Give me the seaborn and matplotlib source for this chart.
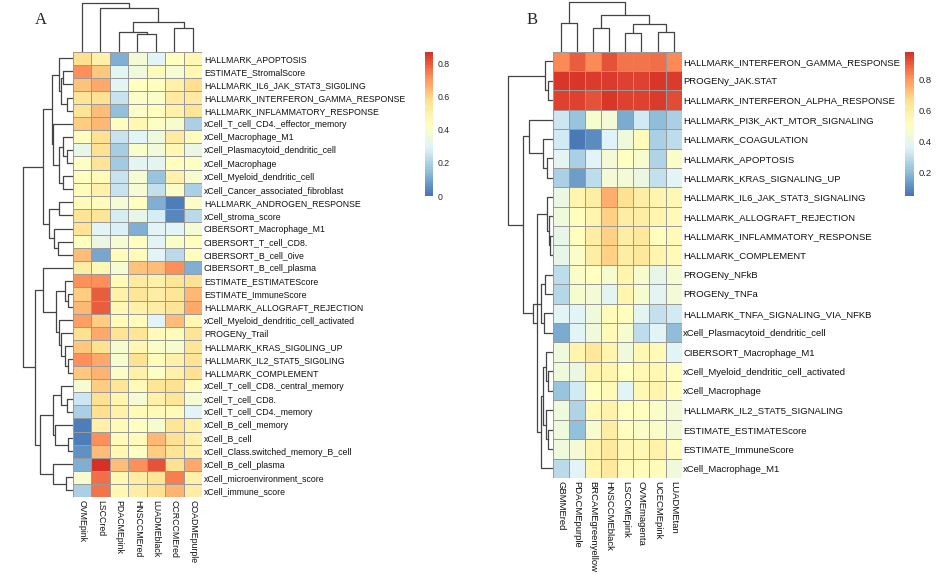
import numpy as np
import pandas as pd
import matplotlib
matplotlib.use("Agg")
import matplotlib.pyplot as plt
import seaborn as sns
from matplotlib.colors import LinearSegmentedColormap

# ---------------- data: panel A ----------------
cols_A = ["OVMEpink", "LSCCred", "PDACMEpink", "HNSCCMEred", "LUADMEblack", "CCRCCMEred", "COADMEpurple"]
rows_A = [
    "HALLMARK_APOPTOSIS", "ESTIMATE_StromalScore", "HALLMARK_IL6_JAK_STAT3_SIG0LING",
    "HALLMARK_INTERFERON_GAMMA_RESPONSE", "HALLMARK_INFLAMMATORY_RESPONSE",
    "xCell_T_cell_CD4._effector_memory", "xCell_Macrophage_M1", "xCell_Plasmacytoid_dendritic_cell",
    "xCell_Macrophage", "xCell_Myeloid_dendritic_cell", "xCell_Cancer_associated_fibroblast",
    "HALLMARK_ANDROGEN_RESPONSE", "xCell_stroma_score", "CIBERSORT_Macrophage_M1",
    "CIBERSORT_T_cell_CD8.", "CIBERSORT_B_cell_0ive", "CIBERSORT_B_cell_plasma",
    "ESTIMATE_ESTIMATEScore", "ESTIMATE_ImmuneScore", "HALLMARK_ALLOGRAFT_REJECTION",
    "xCell_Myeloid_dendritic_cell_activated", "PROGENy_Trail", "HALLMARK_KRAS_SIG0LING_UP",
    "HALLMARK_IL2_STAT5_SIG0LING", "HALLMARK_COMPLEMENT", "xCell_T_cell_CD8._central_memory",
    "xCell_T_cell_CD8.", "xCell_T_cell_CD4._memory", "xCell_B_cell_memory", "xCell_B_cell",
    "xCell_Class.switched_memory_B_cell", "xCell_B_cell_plasma", "xCell_microenvironment_score",
    "xCell_immune_score",
]
OVMEpink_A     = [0.58, 0.72, 0.63, 0.56, 0.56, 0.61, 0.44, 0.33, 0.42, 0.44, 0.45, 0.45, 0.56, 0.56, 0.44, 0.64, 0.52,
                  0.72, 0.61, 0.65, 0.69, 0.57, 0.62, 0.72, 0.62, 0.39, 0.26, 0.20, 0.02, 0.02, 0.06, 0.12, 0.40, 0.20]
LSCCred_A      = [0.50, 0.62, 0.67, 0.57, 0.64, 0.65, 0.57, 0.57, 0.56, 0.46, 0.50, 0.45, 0.55, 0.30, 0.34, 0.10, 0.47,
                  0.72, 0.80, 0.80, 0.61, 0.67, 0.57, 0.67, 0.66, 0.61, 0.57, 0.58, 0.50, 0.72, 0.64, 0.87, 0.77, 0.76]
PDACMEpink_A   = [0.12, 0.31, 0.31, 0.25, 0.15, 0.44, 0.25, 0.19, 0.18, 0.25, 0.25, 0.39, 0.27, 0.28, 0.39, 0.45, 0.39,
                  0.46, 0.50, 0.47, 0.46, 0.56, 0.40, 0.40, 0.41, 0.55, 0.48, 0.50, 0.46, 0.46, 0.47, 0.64, 0.47, 0.47]
HNSCCMEred_A   = [0.38, 0.36, 0.43, 0.41, 0.41, 0.47, 0.30, 0.41, 0.31, 0.39, 0.39, 0.44, 0.33, 0.12, 0.44, 0.45, 0.63,
                  0.53, 0.55, 0.50, 0.45, 0.55, 0.47, 0.57, 0.50, 0.46, 0.39, 0.46, 0.42, 0.45, 0.42, 0.72, 0.52, 0.52]
LUADMEblack_A  = [0.30, 0.45, 0.44, 0.41, 0.44, 0.42, 0.36, 0.37, 0.31, 0.16, 0.24, 0.12, 0.27, 0.30, 0.30, 0.30, 0.64,
                  0.50, 0.52, 0.52, 0.30, 0.45, 0.41, 0.45, 0.42, 0.55, 0.50, 0.46, 0.40, 0.65, 0.61, 0.81, 0.55, 0.57]
CCRCCMEred_A   = [0.44, 0.39, 0.50, 0.53, 0.50, 0.40, 0.53, 0.47, 0.44, 0.50, 0.41, 0.02, 0.04, 0.30, 0.41, 0.22, 0.72,
                  0.55, 0.55, 0.56, 0.64, 0.45, 0.40, 0.50, 0.50, 0.57, 0.55, 0.46, 0.55, 0.57, 0.56, 0.57, 0.74, 0.66]
COADMEpurple_A = [0.47, 0.47, 0.58, 0.53, 0.55, 0.20, 0.45, 0.34, 0.42, 0.40, 0.20, 0.41, 0.22, 0.39, 0.44, 0.44, 0.12,
                  0.57, 0.65, 0.67, 0.47, 0.56, 0.55, 0.56, 0.57, 0.45, 0.39, 0.30, 0.50, 0.50, 0.50, 0.67, 0.50, 0.52]

# ---------------- data: panel B ----------------
cols_B = ["GBMMEred", "PDACMEpurple", "BRCAMEgreenyellow", "HNSCCMEblack", "LSCCMEpink", "OVMEmagenta", "UCECMEpink", "LUADMEtan"]
rows_B = [
    "HALLMARK_INTERFERON_GAMMA_RESPONSE", "PROGENy_JAK.STAT", "HALLMARK_INTERFERON_ALPHA_RESPONSE",
    "HALLMARK_PI3K_AKT_MTOR_SIGNALING", "HALLMARK_COAGULATION", "HALLMARK_APOPTOSIS",
    "HALLMARK_KRAS_SIGNALING_UP", "HALLMARK_IL6_JAK_STAT3_SIGNALING", "HALLMARK_ALLOGRAFT_REJECTION",
    "HALLMARK_INFLAMMATORY_RESPONSE", "HALLMARK_COMPLEMENT", "PROGENy_NFkB", "PROGENy_TNFa",
    "HALLMARK_TNFA_SIGNALING_VIA_NFKB", "xCell_Plasmacytoid_dendritic_cell", "CIBERSORT_Macrophage_M1",
    "xCell_Myeloid_dendritic_cell_activated", "xCell_Macrophage", "HALLMARK_IL2_STAT5_SIGNALING",
    "ESTIMATE_ESTIMATEScore", "ESTIMATE_ImmuneScore", "xCell_Macrophage_M1",
]
GBMMEred_B      = [0.83, 0.97, 0.95, 0.32, 0.33, 0.38, 0.26, 0.42, 0.44, 0.40, 0.40, 0.30, 0.28, 0.37, 0.17, 0.44, 0.44, 0.22, 0.44, 0.44, 0.44, 0.29]
PDACMEpurple_B  = [0.90, 0.97, 0.95, 0.22, 0.06, 0.26, 0.14, 0.57, 0.52, 0.52, 0.49, 0.49, 0.47, 0.37, 0.37, 0.57, 0.42, 0.33, 0.27, 0.21, 0.45, 0.37]
BRCAMEgy_B      = [0.83, 0.96, 0.92, 0.47, 0.10, 0.37, 0.30, 0.60, 0.57, 0.60, 0.60, 0.51, 0.45, 0.44, 0.44, 0.63, 0.57, 0.51, 0.54, 0.47, 0.57, 0.57]
HNSCCMEblack_B  = [0.92, 0.96, 0.97, 0.45, 0.36, 0.45, 0.45, 0.76, 0.70, 0.70, 0.70, 0.47, 0.38, 0.53, 0.54, 0.57, 0.57, 0.54, 0.58, 0.60, 0.62, 0.62]
LSCCMEpink_B    = [0.86, 0.95, 0.95, 0.17, 0.44, 0.51, 0.45, 0.66, 0.60, 0.60, 0.60, 0.57, 0.57, 0.52, 0.47, 0.44, 0.51, 0.37, 0.51, 0.52, 0.55, 0.54]
OVMEmagenta_B   = [0.86, 0.95, 0.95, 0.33, 0.53, 0.47, 0.42, 0.60, 0.60, 0.63, 0.63, 0.47, 0.47, 0.38, 0.30, 0.55, 0.55, 0.55, 0.52, 0.49, 0.55, 0.53]
UCECMEpink_B    = [0.87, 0.97, 0.96, 0.20, 0.26, 0.27, 0.31, 0.57, 0.57, 0.52, 0.57, 0.40, 0.38, 0.31, 0.37, 0.54, 0.56, 0.57, 0.49, 0.49, 0.58, 0.53]
LUADMEtan_B     = [0.83, 0.96, 0.93, 0.26, 0.30, 0.49, 0.37, 0.55, 0.54, 0.54, 0.54, 0.46, 0.45, 0.33, 0.20, 0.37, 0.52, 0.52, 0.45, 0.45, 0.52, 0.44]

# ---------------- dendrogram merge lists (a, b, height in px); new clusters get ids n, n+1, ... ----------------
col_merges_A = [(3, 4, 18), (2, 7, 20), (5, 6, 24), (8, 9, 30), (1, 10, 44), (0, 11, 49)]
col_merges_B = [(0, 1, 29), (2, 3, 24), (4, 5, 19), (6, 7, 20), (10, 11, 28), (9, 12, 37), (8, 13, 50)]
row_merges_A = [
    (1, 2, 10), (3, 4, 6), (34, 35, 12), (0, 36, 13.3),                  # 34-37
    (7, 8, 6), (6, 38, 10), (9, 10, 10), (39, 40, 13.3), (5, 41, 20),    # 38-42
    (37, 42, 21),                                                        # 43
    (11, 12, 13.3), (14, 15, 15), (13, 45, 18.7), (44, 46, 23.3),        # 44-47
    (43, 47, 29.3),                                                      # 48
    (18, 19, 4.3), (17, 49, 7.7), (23, 24, 4.3), (22, 51, 7.7),          # 49-52
    (21, 52, 11.7), (20, 53, 13.3), (50, 54, 16.7), (16, 55, 29.3),      # 53-56
    (26, 27, 6), (25, 57, 11.7), (29, 30, 5), (28, 59, 17.7),            # 57-60
    (58, 60, 19.3), (32, 33, 7), (31, 62, 19.3), (61, 63, 32.7),         # 61-64
    (56, 64, 37.7), (48, 65, 50),                                        # 65-66
]
row_merges_B = [
    (1, 2, 5), (0, 22, 8),
    (5, 6, 6), (4, 24, 10),
    (9, 10, 3), (8, 26, 4), (7, 27, 6),
    (11, 12, 8), (13, 14, 9), (29, 30, 12),
    (16, 17, 5), (15, 32, 7), (19, 20, 5), (18, 34, 7), (33, 35, 10), (21, 36, 12),
    (28, 37, 16), (31, 38, 20), (3, 25, 24), (40, 39, 30), (23, 41, 45),
]

# ---------------- styling ----------------
sns.set_theme(style="white")
plt.rcParams['font.family'] = ['Liberation Sans', 'DejaVu Sans']
FS_A = 6.3
FS_B = 6.8
W, H = 941, 575
fig = plt.figure(figsize=(W / 100, H / 100), dpi=100)
cmap = LinearSegmentedColormap.from_list(
    "pheat", ["#4575B4", "#91BFDB", "#E0F3F8", "#FFFFBF", "#FEE090", "#FC8D59", "#D73027"], N=100)
LINE = "#444444"


def box(l, t, r, b):
    return fig.add_axes([l / W, 1 - b / H, (r - l) / W, (b - t) / H])


def draw_dendro(ax, merges, n, orient, size):
    pos = {i: i + 0.5 for i in range(n)}
    hgt = {i: 0.0 for i in range(n)}
    k = n
    for a, b, h in merges:
        xa, xb = pos[a], pos[b]
        if orient == "top":
            ax.plot([xa, xa, xb, xb], [hgt[a], h, h, hgt[b]], color=LINE, lw=0.9)
        else:
            ax.plot([hgt[a], h, h, hgt[b]], [xa, xa, xb, xb], color=LINE, lw=0.9)
        pos[k] = (xa + xb) / 2
        hgt[k] = h
        k += 1
    if orient == "top":
        ax.set_xlim(0, n)
        ax.set_ylim(0, size)
    else:
        ax.set_ylim(n, 0)
        ax.set_xlim(size, 0)
    ax.axis("off")


def heat(df, l, t, r, b, cax_box, vmin, vmax, ticks, fs):
    ax = box(l, t, r, b)
    cax = box(*cax_box)
    sns.heatmap(df, ax=ax, cmap=cmap, vmin=vmin, vmax=vmax, linewidths=0.6, linecolor="#9a9a9a",
                cbar=True, cbar_ax=cax, xticklabels=True, yticklabels=True,
                cbar_kws={"ticks": ticks})
    ax.yaxis.tick_right()
    ax.set_yticklabels(df.index, rotation=0, fontsize=fs, color="#111111")
    ax.set_xticklabels(df.columns, rotation=-90, fontsize=fs, color="#111111")
    ax.tick_params(axis="y", length=0, pad=1.2)
    ax.tick_params(axis="x", length=0, pad=2)
    ax.set_xlabel("")
    ax.set_ylabel("")
    cb = ax.collections[0].colorbar
    cb.outline.set_visible(False)
    cax.tick_params(length=0, labelsize=fs, pad=3)
    cax.set_yticklabels([f"{t:g}" for t in ticks])
    return ax


dfA = pd.DataFrame({c: v for c, v in zip(cols_A, [OVMEpink_A, LSCCred_A, PDACMEpink_A, HNSCCMEred_A,
                                                     LUADMEblack_A, CCRCCMEred_A, COADMEpurple_A])}, index=rows_A)
dfB = pd.DataFrame({c: v for c, v in zip(cols_B, [GBMMEred_B, PDACMEpurple_B, BRCAMEgy_B, HNSCCMEblack_B,
                                                     LSCCMEpink_B, OVMEmagenta_B, UCECMEpink_B, LUADMEtan_B])}, index=rows_B)

# panel A
heat(dfA, 72.7, 51.7, 202.2, 497, (425, 52, 433, 196), 0.0, 0.87, [0, 0.2, 0.4, 0.6, 0.8], FS_A)
draw_dendro(box(72.7, 1, 202.2, 51.7), col_merges_A, 7, "top", 50.7)
draw_dendro(box(20.7, 51.7, 72.7, 497), row_merges_A, 34, "left", 52)

# panel B
heat(dfB, 552.7, 51.7, 681.7, 478, (905, 52, 914, 196), 0.05, 0.98, [0.2, 0.4, 0.6, 0.8], FS_B)
draw_dendro(box(552.7, 1, 681.7, 51.7), col_merges_B, 8, "top", 50.7)
draw_dendro(box(505, 51.7, 552.7, 478), row_merges_B, 22, "left", 47.7)

fig.text(35 / W, 1 - 20 / H, "A", family="Liberation Serif", fontsize=12, ha="left", va="center")
fig.text(527 / W, 1 - 20 / H, "B", family="Liberation Serif", fontsize=12, ha="left", va="center")

fig.savefig("out.png", dpi=100, facecolor="white")
